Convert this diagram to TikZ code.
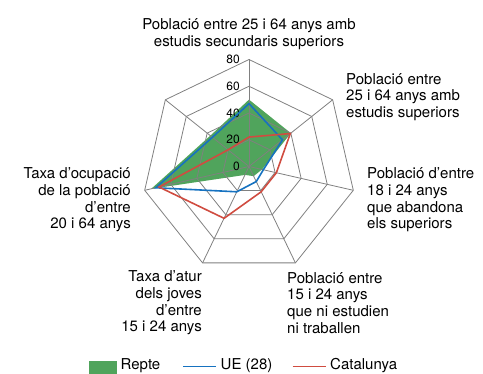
\documentclass[tikz,border=0pt]{standalone}
\usepackage{fontspec}
\setmainfont{TeX Gyre Heros}
\usetikzlibrary{positioning}
\definecolor{reptegreen}{RGB}{80,164,92}
\definecolor{ueblue}{RGB}{22,114,192}
\definecolor{catred}{RGB}{208,76,64}
\definecolor{gridgrey}{RGB}{128,128,128}
% angle of axis #1 (0 = top, clockwise)
\newcommand\axang[1]{90-#1*360/7}
\newcommand\radar[2]{%
  \foreach \v [count=\i from 0] in {#2} {
    \coordinate (#1\i) at ({\axang{\i}}:{\v*1.3375});
  }
}

\begin{document}
\begin{tikzpicture}[
x=1pt, y=1pt,
gridline/.style={draw=gridgrey, line width=0.8pt},
axlabel/.style={inner sep=0pt, font=\fontsize{15}{16.7}\selectfont},
ticklabel/.style={inner sep=0pt, anchor=east, font=\fontsize{12}{14}\selectfont},
serieline/.style={line width=1.6pt, line join=miter}
]
\useasboundingbox (0,0) rectangle (483,374);

\begin{scope}[shift={(249,207.5)}]
\radar{rep}{50,40,10,8,7,75,37}
\radar{ue}{47,32,11,12.5,21,71.5,35}
\radar{cat}{22,39.5,21,21,43,69,20}

% Repte
\fill[reptegreen] (rep0) -- (rep1) -- (rep2) -- (rep3) -- (rep4) -- (rep5) -- (rep6) -- cycle;

% grid
\foreach \r in {1,...,4}
  \draw[gridline] (90:\r*26.75) \foreach \i in {1,...,6} { -- ({\axang{\i}}:\r*26.75) } -- cycle;
\foreach \i in {0,...,6}
  \draw[gridline] (0,0) -- ({\axang{\i}}:107);

\foreach \v in {0,20,40,60,80}
  \node[ticklabel] (tick\v) at (-9,\v*1.3375) {\v};

% UE (28) and Catalunya
\draw[serieline, ueblue] (ue0) -- (ue1) -- (ue2) -- (ue3) -- (ue4) -- (ue5) -- (ue6) -- cycle;
\draw[serieline, catred] (cat0) -- (cat1) -- (cat2) -- (cat3) -- (cat4) -- (cat5) -- (cat6) -- cycle;
\end{scope}

\node[axlabel, align=center] (secund) at (249,340) {Població entre 25 i 64 anys amb\\estudis secundaris superiors};
\node[axlabel, align=left, anchor=west] (superiors) at (346,277) {Població entre\\25 i 64 anys amb\\estudis superiors};
\node[axlabel, align=left, anchor=west] (abandona) at (367,174) {Població d’entre\\18 i 24 anys\\que abandona\\els superiors};
\node[axlabel, align=left, anchor=west] (nini) at (287,71) {Població entre\\15 i 24 anys\\que ni estudien\\ni traballen};
\node[axlabel, align=right, anchor=east] (atur) at (202,71) {Taxa d’atur\\dels joves\\d’entre\\15 i 24 anys};
\node[axlabel, align=right, anchor=east] (ocupacio) at (131,174) {Taxa d’ocupació\\de la població\\d’entre\\20 i 64 anys};

% legend
\fill[reptegreen] (89,0) rectangle (116.7,13);
\node[axlabel, anchor=base west] (lrepte) at (120.5,4) {Repte};
\draw[serieline, ueblue] (183.3,7.5) coordinate (lue1) -- (216,7.5) coordinate (lue2);
\node[axlabel, anchor=base west] (lue) at (220.5,4) {UE (28)};
\draw[serieline, catred] (292.7,7.5) coordinate (lcat1) -- (326,7.5) coordinate (lcat2);
\node[axlabel, anchor=base west] (lcat) at (330,4) {Catalunya};
\end{tikzpicture}
\end{document}
